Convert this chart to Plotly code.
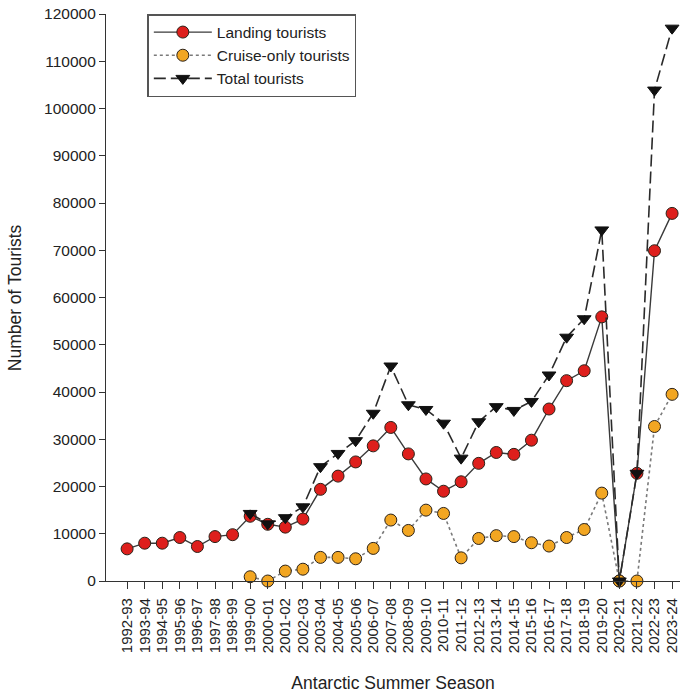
import plotly.graph_objects as go

# Antarctic summer seasons
seasons = [
    "1992-93", "1993-94", "1994-95", "1995-96", "1996-97", "1997-98", "1998-99",
    "1999-00", "2000-01", "2001-02", "2002-03", "2003-04", "2004-05", "2005-06",
    "2006-07", "2007-08", "2008-09", "2009-10", "2010-11", "2011-12", "2012-13",
    "2013-14", "2014-15", "2015-16", "2016-17", "2017-18", "2018-19", "2019-20",
    "2020-21", "2021-22", "2022-23", "2023-24",
]

landing = [
    6800, 8000, 8000, 9200, 7300, 9400, 9800,
    13700, 12000, 11400, 13100, 19400, 22200, 25200,
    28600, 32500, 26900, 21600, 19000, 21000, 24900,
    27200, 26800, 29800, 36400, 42400, 44500, 55900,
    0, 22800, 69900, 77800,
]

# Cruise-only figures start in 1999-00
cruise = [
    None, None, None, None, None, None, None,
    900, 0, 2100, 2500, 5000, 5000, 4700,
    6900, 12900, 10700, 15000, 14300, 4900, 9000,
    9600, 9400, 8100, 7400, 9200, 10900, 18600,
    0, 0, 32700, 39500,
]

# Total figures start in 1999-00
total = [
    None, None, None, None, None, None, None,
    14300, 12100, 13400, 15700, 24200, 27000, 29700,
    35500, 45500, 37300, 36300, 33400, 26000, 33700,
    36900, 36100, 38000, 43600, 51600, 55500, 74300,
    0, 22800, 103900, 117000,
]

y_ticks = list(range(0, 120001, 10000))

edge = "#2b2218"
family = "Liberation Sans, Arial, sans-serif"

fig = go.Figure()

fig.add_trace(go.Scatter(
    x=seasons, y=landing, name="Landing tourists",
    mode="lines+markers",
    line=dict(color="#3a3a3a", width=1.4, dash="solid"),
    marker=dict(symbol="circle", size=12, color="#de1f1c",
                line=dict(color=edge, width=1)),
    cliponaxis=False,
))

fig.add_trace(go.Scatter(
    x=seasons, y=cruise, name="Cruise-only tourists",
    mode="lines+markers", connectgaps=False,
    line=dict(color="#7a7a7a", width=1.6, dash="dot"),
    marker=dict(symbol="circle", size=12, color="#f2a622",
                line=dict(color=edge, width=1)),
    cliponaxis=False,
))

fig.add_trace(go.Scatter(
    x=seasons, y=total, name="Total tourists",
    mode="lines+markers", connectgaps=False,
    line=dict(color="#2a2a2a", width=1.6, dash="12px,5px"),
    marker=dict(symbol="triangle-down", size=12, color="#111111",
                line=dict(color="#111111", width=1)),
    cliponaxis=False,
))

x_tick_font = dict(family=family, size=15, color="#222222")
y_tick_font = dict(family=family, size=15.5, color="#222222")
title_font = dict(family=family, size=17.5, color="#222222")

fig.update_layout(
    width=684, height=694,
    margin=dict(l=106, r=4, t=14, b=113),
    paper_bgcolor="white", plot_bgcolor="white",
    font=dict(family=family, color="#222222"),
    showlegend=True,
    legend=dict(
        x=0.072, y=1.0, xanchor="left", yanchor="top",
        bordercolor="#555555", borderwidth=1.5, bgcolor="white",
        font=dict(family=family, size=15.5, color="#222222"),
        itemwidth=58,
    ),
    xaxis=dict(
        type="category",
        categoryorder="array", categoryarray=seasons,
        range=[-1.2, 31.45],
        tickmode="array", tickvals=seasons, ticktext=seasons,
        showgrid=False, zeroline=False,
        showline=True, linecolor="#333333", linewidth=1.2,
        ticks="outside", ticklen=7, tickcolor="#333333", tickwidth=1,
        ticklabelstandoff=3,
        tickangle=-90, tickfont=x_tick_font,
        title=dict(text="Antarctic Summer Season", font=title_font, standoff=24),
    ),
    yaxis=dict(
        range=[0, 120000],
        tickmode="array", tickvals=y_ticks, ticktext=[str(v) for v in y_ticks],
        showgrid=False, zeroline=False,
        showline=True, linecolor="#333333", linewidth=1.2,
        ticks="outside", ticklen=6, tickcolor="#333333", tickwidth=1,
        tickfont=y_tick_font,
    ),
    annotations=[dict(
        text="Number of Tourists", textangle=-90,
        xref="paper", yref="paper", x=-0.159, y=0.5,
        xanchor="center", yanchor="middle", showarrow=False,
        font=title_font,
    )],
)

fig.write_html("out.html")
